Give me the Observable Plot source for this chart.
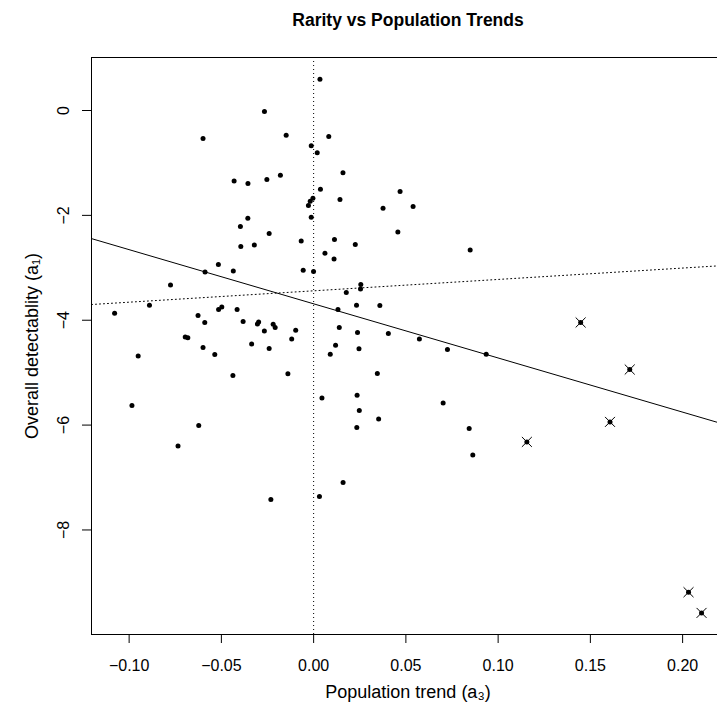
<!DOCTYPE html>
<html>
<head>
<meta charset="utf-8">
<script src="https://cdn.jsdelivr.net/npm/d3@7"></script>
<script src="https://cdn.jsdelivr.net/npm/@observablehq/plot@0.6"></script>
<style>
  html, body { margin: 0; padding: 0; background: white; overflow: hidden; }
</style>
</head>
<body>
<div id="chart"></div>
<script>
// Species: population trend (a3) and overall detectability (a1)
const trendX = [0.00342,-0.02666,-0.01488,-0.05994,0.0082,-0.0013,0.00195,0.0159,-0.0431,-0.0356,
  -0.02535,-0.01802,0.00369,-0.00038,-0.00185,-0.00282,0.01428,0.04685,0.03762,0.05391,
  -0.0013,-0.03567,-0.03969,-0.0241,0.04566,-0.00673,0.01129,0.02258,-0.03947,-0.03214,
  0.00613,0.01107,0.08485,-0.05163,-0.05885,-0.04354,-0.00565,-0.00005,-0.07758,0.02557,
  0.02541,0.0177,0.02324,0.03589,0.01319,-0.08898,-0.10787,-0.06265,-0.05152,-0.04978,
  -0.04148,-0.05901,-0.03822,-0.03046,-0.0298,-0.02193,-0.02085,-0.02671,-0.00972,-0.0696,
  -0.06819,-0.0336,-0.05994,-0.0241,-0.01189,0.0139,0.02378,0.0405,0.05733,0.07253,
  0.09354,0.01189,0.00901,0.02459,-0.09511,-0.05358,-0.04376,-0.01395,0.03453,-0.09848,
  0.00451,0.02356,0.0702,0.02476,0.03523,0.0234,0.08431,0.08627,-0.06227,-0.07351,
  0.01596,0.00315,-0.02318];
const detectY = [0.597,-0.019,-0.471,-0.534,-0.496,-0.671,-0.805,-1.186,-1.343,-1.392,
  -1.316,-1.234,-1.501,-1.673,-1.730,-1.810,-1.697,-1.545,-1.863,-1.829,
  -2.035,-2.054,-2.212,-2.346,-2.315,-2.487,-2.460,-2.556,-2.594,-2.563,
  -2.722,-2.830,-2.659,-2.937,-3.078,-3.059,-3.046,-3.071,-3.326,-3.319,
  -3.405,-3.469,-3.713,-3.717,-3.796,-3.713,-3.866,-3.910,-3.794,-3.746,
  -3.796,-4.043,-4.024,-4.070,-4.032,-4.076,-4.139,-4.204,-4.190,-4.318,
  -4.333,-4.452,-4.518,-4.537,-4.356,-4.139,-4.234,-4.251,-4.356,-4.558,
  -4.648,-4.476,-4.648,-4.543,-4.681,-4.654,-5.052,-5.020,-5.016,-5.626,
  -5.481,-5.430,-5.577,-5.720,-5.884,-6.044,-6.065,-6.569,-6.008,-6.397,
  -7.095,-7.362,-7.419];
// Highlighted (crossed) species
const crossX = [0.14473,0.17134,0.16064,0.11558,0.2032,0.21026];
const crossY = [-4.043,-4.940,-5.939,-6.321,-9.187,-9.582];

// Fitted lines: solid and dotted
const lineNames = ["solid","dotted"];
const lineIntercepts = [-3.687,-3.439];
const lineSlopes = [-10.33,2.17];

const xTicks = [-0.10,-0.05,0.00,0.05,0.10,0.15,0.20];
const yTicks = [0,-2,-4,-6,-8];
const zeroLine = [0];

const titleText = "Rarity vs Population Trends";
const xLabelText = "Population trend (a\u2083)";
const yLabelText = "Overall detectablity (a\u2081)";

const xDomain = [-0.1204, 0.2227];
const yDomain = [-9.994, 1.011];

const points = trendX.map((x,i) => ({x, y: detectY[i]}));
const crossed = crossX.map((x,i) => ({x, y: crossY[i]}));
const lineRows = lineNames.flatMap((name,i) => xDomain.map(x => ({name, x, y: lineIntercepts[i] + lineSlopes[i]*x})));

const fontFamily = "'Liberation Sans', Arial, Helvetica, sans-serif";
const yFmt = d3.format("d");

const chart = Plot.plot({
  width: 717,
  height: 711,
  marginLeft: 91,
  marginRight: -7,
  marginTop: 57,
  marginBottom: 77,
  style: {fontFamily, background: "white", color: "black"},
  x: {domain: xDomain},
  y: {domain: yDomain},
  marks: [
    Plot.ruleX(zeroLine, {x: d => d, stroke: "black", strokeWidth: 1, strokeDasharray: "1,3"}),
    Plot.line(lineRows.filter(d => d.name === "solid"), {x: "x", y: "y", stroke: "black", strokeWidth: 1}),
    Plot.line(lineRows.filter(d => d.name === "dotted"), {x: "x", y: "y", stroke: "black", strokeWidth: 1, strokeDasharray: "1,3"}),
    Plot.dot(points, {x: "x", y: "y", r: 2.5, fill: "black", stroke: null}),
    Plot.dot(crossed, {x: "x", y: "y", r: 2.5, fill: "black", stroke: null}),
    Plot.dot(crossed, {x: "x", y: "y", r: 4.6, symbol: "times", stroke: "black", strokeWidth: 1}),
    Plot.frame({stroke: "black", strokeWidth: 1}),
    Plot.axisX({ticks: xTicks, tickSize: 9, tickPadding: 16, tickFormat: d3.format(".2f"), fontSize: 16, label: null, stroke: "black"}),
    Plot.axisY({ticks: yTicks, tickSize: 9, tickFormat: () => "", label: null, stroke: "black"}),
    Plot.text(yTicks, {y: d => d, text: d => yFmt(d), frameAnchor: "left", dx: -28, rotate: -90, fontSize: 16, textAnchor: "middle", lineAnchor: "middle", fill: "black"}),
    Plot.text([titleText], {text: d => d, frameAnchor: "top", dy: -37, fontSize: 17.5, fontWeight: "bold", fill: "black", textAnchor: "middle", lineAnchor: "middle"}),
    Plot.text([xLabelText], {text: d => d, frameAnchor: "bottom", dy: 58, fontSize: 18, fill: "black", textAnchor: "middle", lineAnchor: "middle"}),
    Plot.text([yLabelText], {text: d => d, frameAnchor: "left", dx: -59, rotate: -90, fontSize: 18, fill: "black", textAnchor: "middle", lineAnchor: "middle"})
  ]
});
document.getElementById("chart").appendChild(chart);
</script>
</body>
</html>
